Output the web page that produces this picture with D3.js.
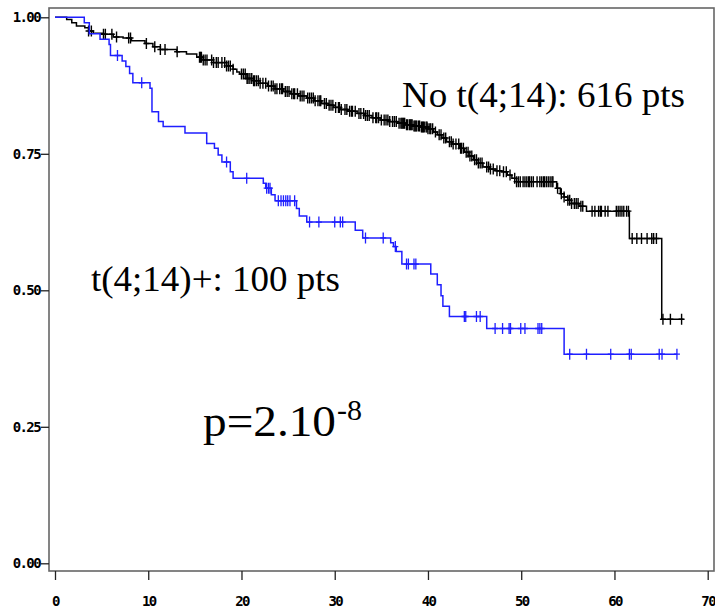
<!DOCTYPE html>
<html>
<head>
<meta charset="utf-8">
<script src="https://cdn.jsdelivr.net/npm/d3@7"></script>
<style>
  html, body { margin: 0; padding: 0; background: #fff; }
  svg { display: block; }
  .tick text { font-family: 'DejaVu Sans Mono', monospace; font-weight: bold; font-size: 14px; letter-spacing: -1.6px; fill: #000; }
</style>
</head>
<body>
<svg id="chart" width="715" height="611"></svg>
<script>
// Axis ticks
const xTicks = [0, 10, 20, 30, 40, 50, 60, 70];
const yTicks = [0, 0.25, 0.5, 0.75, 1];

// Kaplan-Meier steps: [time (months), survival after the event]
const noT414Steps = [
  [1.25,.996],[1.8,.990],[2.3,.984],[3.2,.981],[3.6,.975],[4.1,.971],[5.2,.969],[6.25,.964],
  [7.3,.962],[8.2,.957],[9.65,.952],[10.5,.946],[11.3,.941],[13.05,.937],[14.1,.933],[15.2,.927],
  [15.9,.922],[17.0,.917],[18.4,.911],[19.1,.905],[19.5,.900],[19.8,.896],[20.6,.888],[21.3,.884],
  [22.0,.879],[22.8,.874],[23.6,.869],[24.5,.864],[25.3,.860],[26.1,.856],[27.0,.852],[27.8,.847],
  [28.6,.842],[29.3,.839],[29.9,.835],[30.6,.831],[31.4,.828],[32.4,.824],[33.2,.820],[34.0,.816],
  [34.9,.812],[35.8,.809],[36.7,.806],[37.6,.803],[38.4,.801],[39.2,.799],[40.0,.796],[40.6,.790],
  [41.0,.785],[41.5,.779],[42.0,.772],[42.6,.768],[43.4,.760],[43.9,.753],[44.4,.746],[44.9,.739],
  [45.4,.733],[45.9,.726],[46.6,.722],[47.3,.719],[47.9,.717],[48.5,.711],[49.0,.705],[49.5,.699],
  [53.8,.687],[54.2,.677],[54.6,.671],[55.0,.665],[55.4,.659],[56.2,.654],[57.0,.645],[61.6,.595],
  [65.07,.447]
];
const noT414End = 67.4;
const noT414Censored = [
  3.6, 3.9, 5.2, 5.4, 6.1, 6.6, 7.9, 8.1, 9.8, 10.7, 11.3, 11.8, 13.1, 15.5, 15.6, 15.7, 15.9,
  16.1, 16.3, 16.8, 17.0, 17.3, 17.5, 17.9, 18.2, 18.4, 18.6, 18.8, 19.1, 20.0, 20.2, 20.4, 20.6,
  20.7, 20.9, 21.1, 21.3, 21.4, 21.6, 21.8, 22.0, 22.3, 22.6, 22.9, 23.2, 23.4, 23.6, 23.8, 24.1,
  24.3, 24.4, 24.7, 24.9, 25.1, 25.4, 25.6, 25.7, 26.0, 26.3, 26.5, 26.7, 27.1, 27.3, 27.5, 27.7,
  27.9, 28.2, 28.4, 28.5, 28.9, 29.1, 29.4, 29.6, 29.8, 30.1, 30.4, 30.5, 30.7, 31.1, 31.3, 31.6,
  31.8, 31.9, 32.2, 32.6, 32.8, 33.1, 33.3, 33.5, 33.7, 34.1, 34.4, 34.5, 34.7, 35.0, 35.3, 35.5,
  35.7, 35.9, 36.2, 36.4, 36.6, 36.9, 37.1, 37.2, 37.3, 37.4, 37.5, 37.7, 37.8, 38.0, 38.1, 38.2,
  38.3, 38.5, 38.6, 38.7, 38.8, 39.0, 39.1, 39.3, 39.4, 39.5, 39.6, 39.8, 39.9, 40.0, 40.2, 40.3,
  40.5, 40.8, 41.2, 41.4, 41.7, 41.9, 42.3, 42.5, 42.7, 43.0, 43.3, 43.5, 43.6, 43.8, 44.1, 44.3,
  44.5, 44.7, 45.0, 45.2, 45.4, 45.6, 45.8, 46.3, 46.5, 46.7, 47.0, 47.4, 47.7, 48.1, 48.4, 48.8,
  49.3, 49.5, 49.7, 49.9, 50.2, 50.4, 50.6, 50.8, 50.9, 51.1, 51.3, 51.7, 52.0, 52.2, 52.4, 52.5,
  52.7, 52.9, 53.1, 53.3, 53.4, 53.9, 54.3, 54.6, 55.0, 55.2, 55.4, 55.7, 55.9, 56.1, 56.4, 56.6,
  57.6, 57.9, 58.3, 58.5, 58.6, 59.0, 59.3, 60.2, 60.4, 60.6, 60.8, 61.0, 61.3, 61.5,
  61.9, 62.4, 62.9, 63.5, 64.0, 64.2, 64.5, 65.2, 66.0, 67.2
];

const t414Steps = [
  [3.14,.99],[3.68,.97],[4.83,.96],[5.8,.95],[5.95,.93],[7.2,.92],[7.6,.91],[8.0,.897],[8.35,.88],
  [10.19,.87],[10.4,.827],[11.1,.809],[11.6,.80],[13.94,.788],[16.27,.769],[17.1,.76],[17.5,.748],
  [17.9,.735],[18.8,.717],[19.1,.705],[22.34,.696],[22.6,.687],[23.2,.675],[23.6,.664],[25.9,.650],
  [26.2,.636],[27.0,.625],[32.2,.610],[33.0,.596],[36.0,.587],[36.3,.580],[36.6,.571],[37.2,.548],
  [40.3,.530],[41.0,.51],[41.4,.49],[41.6,.471],[42.3,.452],[46.3,.43],[54.6,.383]
];
const t414End = 66.7;
const t414Censored = [
  6.7, 9.3, 18.4, 20.56, 22.7, 22.9, 23.06, 23.95, 24.24, 24.5, 24.75, 24.96, 25.2, 25.7,
  27.3, 28.3, 30.0, 30.6, 30.85, 33.3, 35.2, 36.5, 37.7, 37.9, 38.5, 38.7, 43.9, 44.05,
  45.2, 45.6, 47.2, 48.0, 48.7, 48.85, 49.95, 50.4, 51.8, 52.0, 52.2, 55.2, 57.0, 59.6,
  61.6, 61.8, 64.8, 65.1, 66.7
];

const svg = d3.select("#chart");

// Plot frame and scales
const frame = { left: 49, right: 714, top: 8, bottom: 571 };
const x = d3.scaleLinear().domain([0, 70]).range([55, 707.7]);
const y = d3.scaleLinear().domain([0, 1]).range([563.3, 17.3]);

svg.append("rect")
  .attr("x", frame.left).attr("y", frame.top)
  .attr("width", frame.right - frame.left).attr("height", frame.bottom - frame.top)
  .attr("fill", "none").attr("stroke", "#666").attr("stroke-width", 1.6);

const yAxis = svg.append("g")
  .attr("transform", `translate(${frame.left},0)`)
  .call(d3.axisLeft(y).tickValues(yTicks).tickFormat(d3.format(".2f")).tickSize(8).tickPadding(1));
yAxis.select(".domain").remove();
yAxis.selectAll("line").attr("stroke", "#222").attr("stroke-width", 1.3);

const xAxis = svg.append("g")
  .attr("transform", `translate(0,${frame.bottom})`)
  .call(d3.axisBottom(x).tickValues(xTicks).tickFormat(d3.format("d")).tickSize(9).tickPadding(16));
xAxis.select(".domain").remove();
xAxis.selectAll("line").attr("stroke", "#222").attr("stroke-width", 1.3);

// Survival curve helpers
function curvePoints(steps, end) {
  const pts = [[0, 1], ...steps];
  pts.push([end, steps[steps.length - 1][1]]);
  return pts;
}
function survivalAt(steps, t) {
  let s = 1;
  for (const [ti, si] of steps) { if (ti <= t) s = si; else break; }
  return s;
}
const line = d3.line().x(d => x(d[0])).y(d => y(d[1])).curve(d3.curveStepAfter);

function drawGroup(steps, end, censored, color, width, markWidth) {
  const g = svg.append("g");
  g.append("path")
    .datum(curvePoints(steps, end))
    .attr("d", line)
    .attr("fill", "none")
    .attr("stroke", color)
    .attr("stroke-width", width);
  g.selectAll("path.cens")
    .data(censored)
    .enter().append("path")
    .attr("class", "cens")
    .attr("d", t => {
      const cx = x(t), cy = y(survivalAt(steps, t));
      return `M${cx},${cy - 5.5}V${cy + 5.5}M${cx - 3},${cy}H${cx + 3}`;
    })
    .attr("fill", "none")
    .attr("stroke", color)
    .attr("stroke-width", markWidth);
}

drawGroup(noT414Steps, noT414End, noT414Censored, "#000", 1.5, 1.4);
drawGroup(t414Steps, t414End, t414Censored, "#1f1fff", 1.5, 1.3);

// Annotations
const serif = "'Liberation Serif', 'Times New Roman', serif";
svg.append("text")
  .attr("x", 402).attr("y", 107)
  .attr("font-family", serif).attr("font-size", 35)
  .attr("textLength", 283).attr("lengthAdjust", "spacingAndGlyphs")
  .text("No t(4;14): 616 pts");

svg.append("text")
  .attr("x", 91).attr("y", 291)
  .attr("font-family", serif).attr("font-size", 35)
  .attr("textLength", 249).attr("lengthAdjust", "spacingAndGlyphs")
  .text("t(4;14)+: 100 pts");

svg.append("text")
  .attr("x", 203).attr("y", 436)
  .attr("font-family", serif).attr("font-size", 45)
  .attr("textLength", 133).attr("lengthAdjust", "spacingAndGlyphs")
  .text("p=2.10");
svg.append("text")
  .attr("x", 337).attr("y", 420)
  .attr("font-family", serif).attr("font-size", 30)
  .text("-8");
</script>
</body>
</html>
